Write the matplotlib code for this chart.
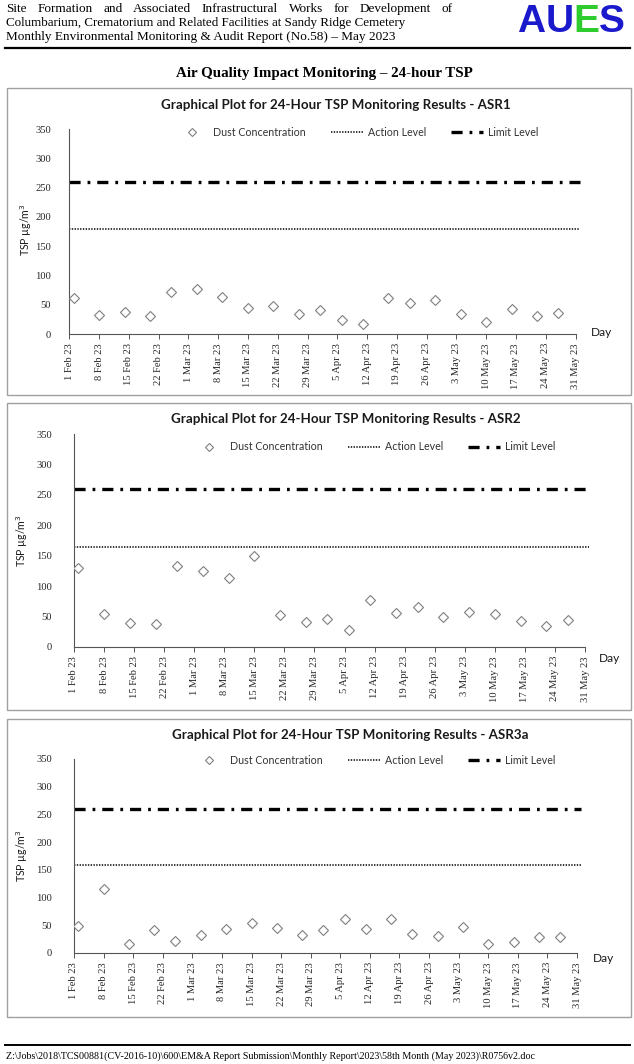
import pandas as pd
import matplotlib
matplotlib.use("Agg")
import matplotlib.pyplot as plt
from matplotlib.patches import Rectangle

W, H = 634, 1064
SERIF = "Liberation Serif"
SANS = "Lato"

# ---- data ----
sample_dates = ["2023-02-02", "2023-02-08", "2023-02-14", "2023-02-20", "2023-02-25",
                "2023-03-03", "2023-03-09", "2023-03-15", "2023-03-21", "2023-03-27",
                "2023-04-01", "2023-04-06", "2023-04-11", "2023-04-17", "2023-04-22",
                "2023-04-28", "2023-05-04", "2023-05-10", "2023-05-16", "2023-05-22",
                "2023-05-27"]
asr1_tsp = [62, 32, 38, 30, 71, 76, 64, 44, 47, 34, 41, 24, 17, 62, 53, 58, 35, 21, 42, 31, 36]
asr2_tsp = [129, 54, 39, 37, 133, 125, 113, 150, 53, 41, 46, 28, 78, 56, 65, 50, 57, 55, 43, 35, 44]
asr3a_tsp = [48, 116, 16, 42, 22, 32, 43, 54, 46, 32, 41, 62, 44, 61, 35, 31, 47, 17, 20, 28, 28]
stations = ["ASR1", "ASR2", "ASR3a"]
action_levels = [180, 164, 159]
limit_level = 260
period_start, period_end = "2023-02-01", "2023-05-31"
level_line_end = "2023-06-01"

dates = pd.to_datetime(sample_dates)
tick_dates = pd.date_range(period_start, period_end, freq="7D")
tick_labels = [f"{d.day} {d:%b %y}" for d in tick_dates]
series = [asr1_tsp, asr2_tsp, asr3a_tsp]

# ---- layout in page pixels ----
boxes = [(6.5, 88, 631, 395), (6.5, 403, 631, 710), (6.5, 719, 631, 1017)]
axes_px = [(69.3, 129, 575.5, 334), (74, 434, 585, 647), (74, 759, 577, 953)]
title_xy = [(336, 105), (346, 419), (350, 735)]
legend_xy = [(176, 132), (193, 447), (193, 760)]
ylabel_xy = [(26, 230), (22, 541), (22, 856)]
day_xy = [(602, 333), (610, 658), (603, 959)]
ytick_pad = [13, 16, 16]


def fx(x):
    return x / W


def fy(y):
    return 1 - y / H


plt.rcParams["lines.scale_dashes"] = False
fig = plt.figure(figsize=(W / 100, H / 100), dpi=100)
renderer = fig.canvas.get_renderer()


# ---- page header ----
def justified(text, x0, x1, y, size):
    words = text.split()
    arts = [fig.text(0, fy(y), w, family=SERIF, fontsize=size, va="center") for w in words]
    widths = [a.get_window_extent(renderer).width for a in arts]
    gap = (x1 - x0 - sum(widths)) / (len(words) - 1)
    x = x0
    for a, w in zip(arts, widths):
        a.set_x(fx(x))
        x += w + gap


justified("Site Formation and Associated Infrastructural Works for Development of", 6, 453, 9, 9.5)
fig.text(fx(6), fy(23), "Columbarium, Crematorium and Related Facilities at Sandy Ridge Cemetery",
         family=SERIF, fontsize=9.4, va="center")
fig.text(fx(6), fy(37), "Monthly Environmental Monitoring & Audit Report (No.58) \u2013 May 2023",
         family=SERIF, fontsize=9.5, va="center")
fig.add_artist(plt.Line2D([fx(5), fx(630)], [fy(48), fy(48)], color="black", lw=1.6))

logo_x = 517
for ch, col in zip("AUES", ["#1a1acc", "#1a1acc", "#2ecc2e", "#1a1acc"]):
    t = fig.text(fx(logo_x), fy(22), ch, family="Liberation Sans", weight="bold",
                 fontsize=28, color=col, va="center")
    logo_x += t.get_window_extent(renderer).width

fig.text(fx(324), fy(73), "Air Quality Impact Monitoring \u2013 24-hour TSP",
         family=SERIF, weight="bold", fontsize=10.8, ha="center", va="center")

# ---- panels ----
for i, name in enumerate(stations):
    bx0, by0, bx1, by1 = boxes[i]
    fig.add_artist(Rectangle((fx(bx0), fy(by1)), (bx1 - bx0) / W, (by1 - by0) / H,
                             transform=fig.transFigure, fill=False, ec="#a0a0a0", lw=1))
    ax0, ay0, ax1, ay1 = axes_px[i]
    ax = fig.add_axes([fx(ax0), fy(ay1), (ax1 - ax0) / W, (ay1 - ay0) / H])

    ax.plot(dates, series[i], ls="none", marker="D", ms=5.5, mfc="white",
            mec="#7f7f7f", mew=0.8, label="Dust Concentration", zorder=3)
    line_x = pd.to_datetime([period_start, level_line_end])
    ax.plot(line_x, [action_levels[i]] * 2, color="black", lw=1.1,
            ls=(0, (1.0, 1.0)), clip_on=False, label="Action Level")
    ax.plot(line_x, [limit_level] * 2, color="black", lw=2.4,
            ls=(0, (8, 5, 2, 5)), clip_on=False, label="Limit Level")

    ax.set_xlim(pd.Timestamp(period_start), pd.Timestamp(period_end))
    ax.set_ylim(0, 350)
    ax.set_yticks(range(0, 351, 50))
    ax.set_xticks(tick_dates)
    ax.set_xticklabels(tick_labels, rotation=90, family=SERIF, fontsize=7.6, color="#262626")
    for lab in ax.get_yticklabels():
        lab.set_family(SERIF)
    ax.tick_params(axis="y", length=0, pad=ytick_pad[i], labelsize=7.6, labelcolor="#262626")
    ax.tick_params(axis="x", direction="out", length=3.5, width=0.7, color="#555555", pad=3)
    for side in ["top", "right"]:
        ax.spines[side].set_visible(False)
    for side in ["left", "bottom"]:
        ax.spines[side].set_color("#555555")
        ax.spines[side].set_linewidth(0.8)
    ax.patch.set_alpha(0)

    tx, ty = title_xy[i]
    fig.text(fx(tx), fy(ty), f"Graphical Plot for 24-Hour TSP Monitoring Results - {name}",
             family=SANS, weight="bold", fontsize=9.6, ha="center", va="center", color="#1a1a1a")
    lx, ly = legend_xy[i]
    ax.legend(loc="center left", bbox_to_anchor=(fx(lx), fy(ly)), bbox_transform=fig.transFigure,
              ncol=3, frameon=False, borderpad=0, borderaxespad=0, handlelength=3.0,
              handletextpad=0.5, columnspacing=2.3, markerscale=0.7,
              prop={"family": SANS, "size": 7.7})
    for t in ax.get_legend().get_texts():
        t.set_color("#333333")
    yx, yy = ylabel_xy[i]
    fig.text(fx(yx), fy(yy), "TSP \u00b5g/m$^3$", family=SANS, fontsize=7.6, rotation=90,
             ha="center", va="center", color="#1a1a1a")
    dx, dy = day_xy[i]
    fig.text(fx(dx), fy(dy), "Day", family=SANS, fontsize=8.6, ha="center", va="center",
             color="#1a1a1a")

# ---- page footer ----
fig.add_artist(plt.Line2D([fx(5), fx(630)], [fy(1045), fy(1045)], color="black", lw=1.4))
fig.text(fx(6), fy(1056),
         "Z:\\Jobs\\2018\\TCS00881(CV-2016-10)\\600\\EM&A Report Submission\\Monthly Report"
         "\\2023\\58th Month (May 2023)\\R0756v2.doc",
         family=SERIF, fontsize=7.2, va="center")

fig.savefig("out.png", dpi=100)
